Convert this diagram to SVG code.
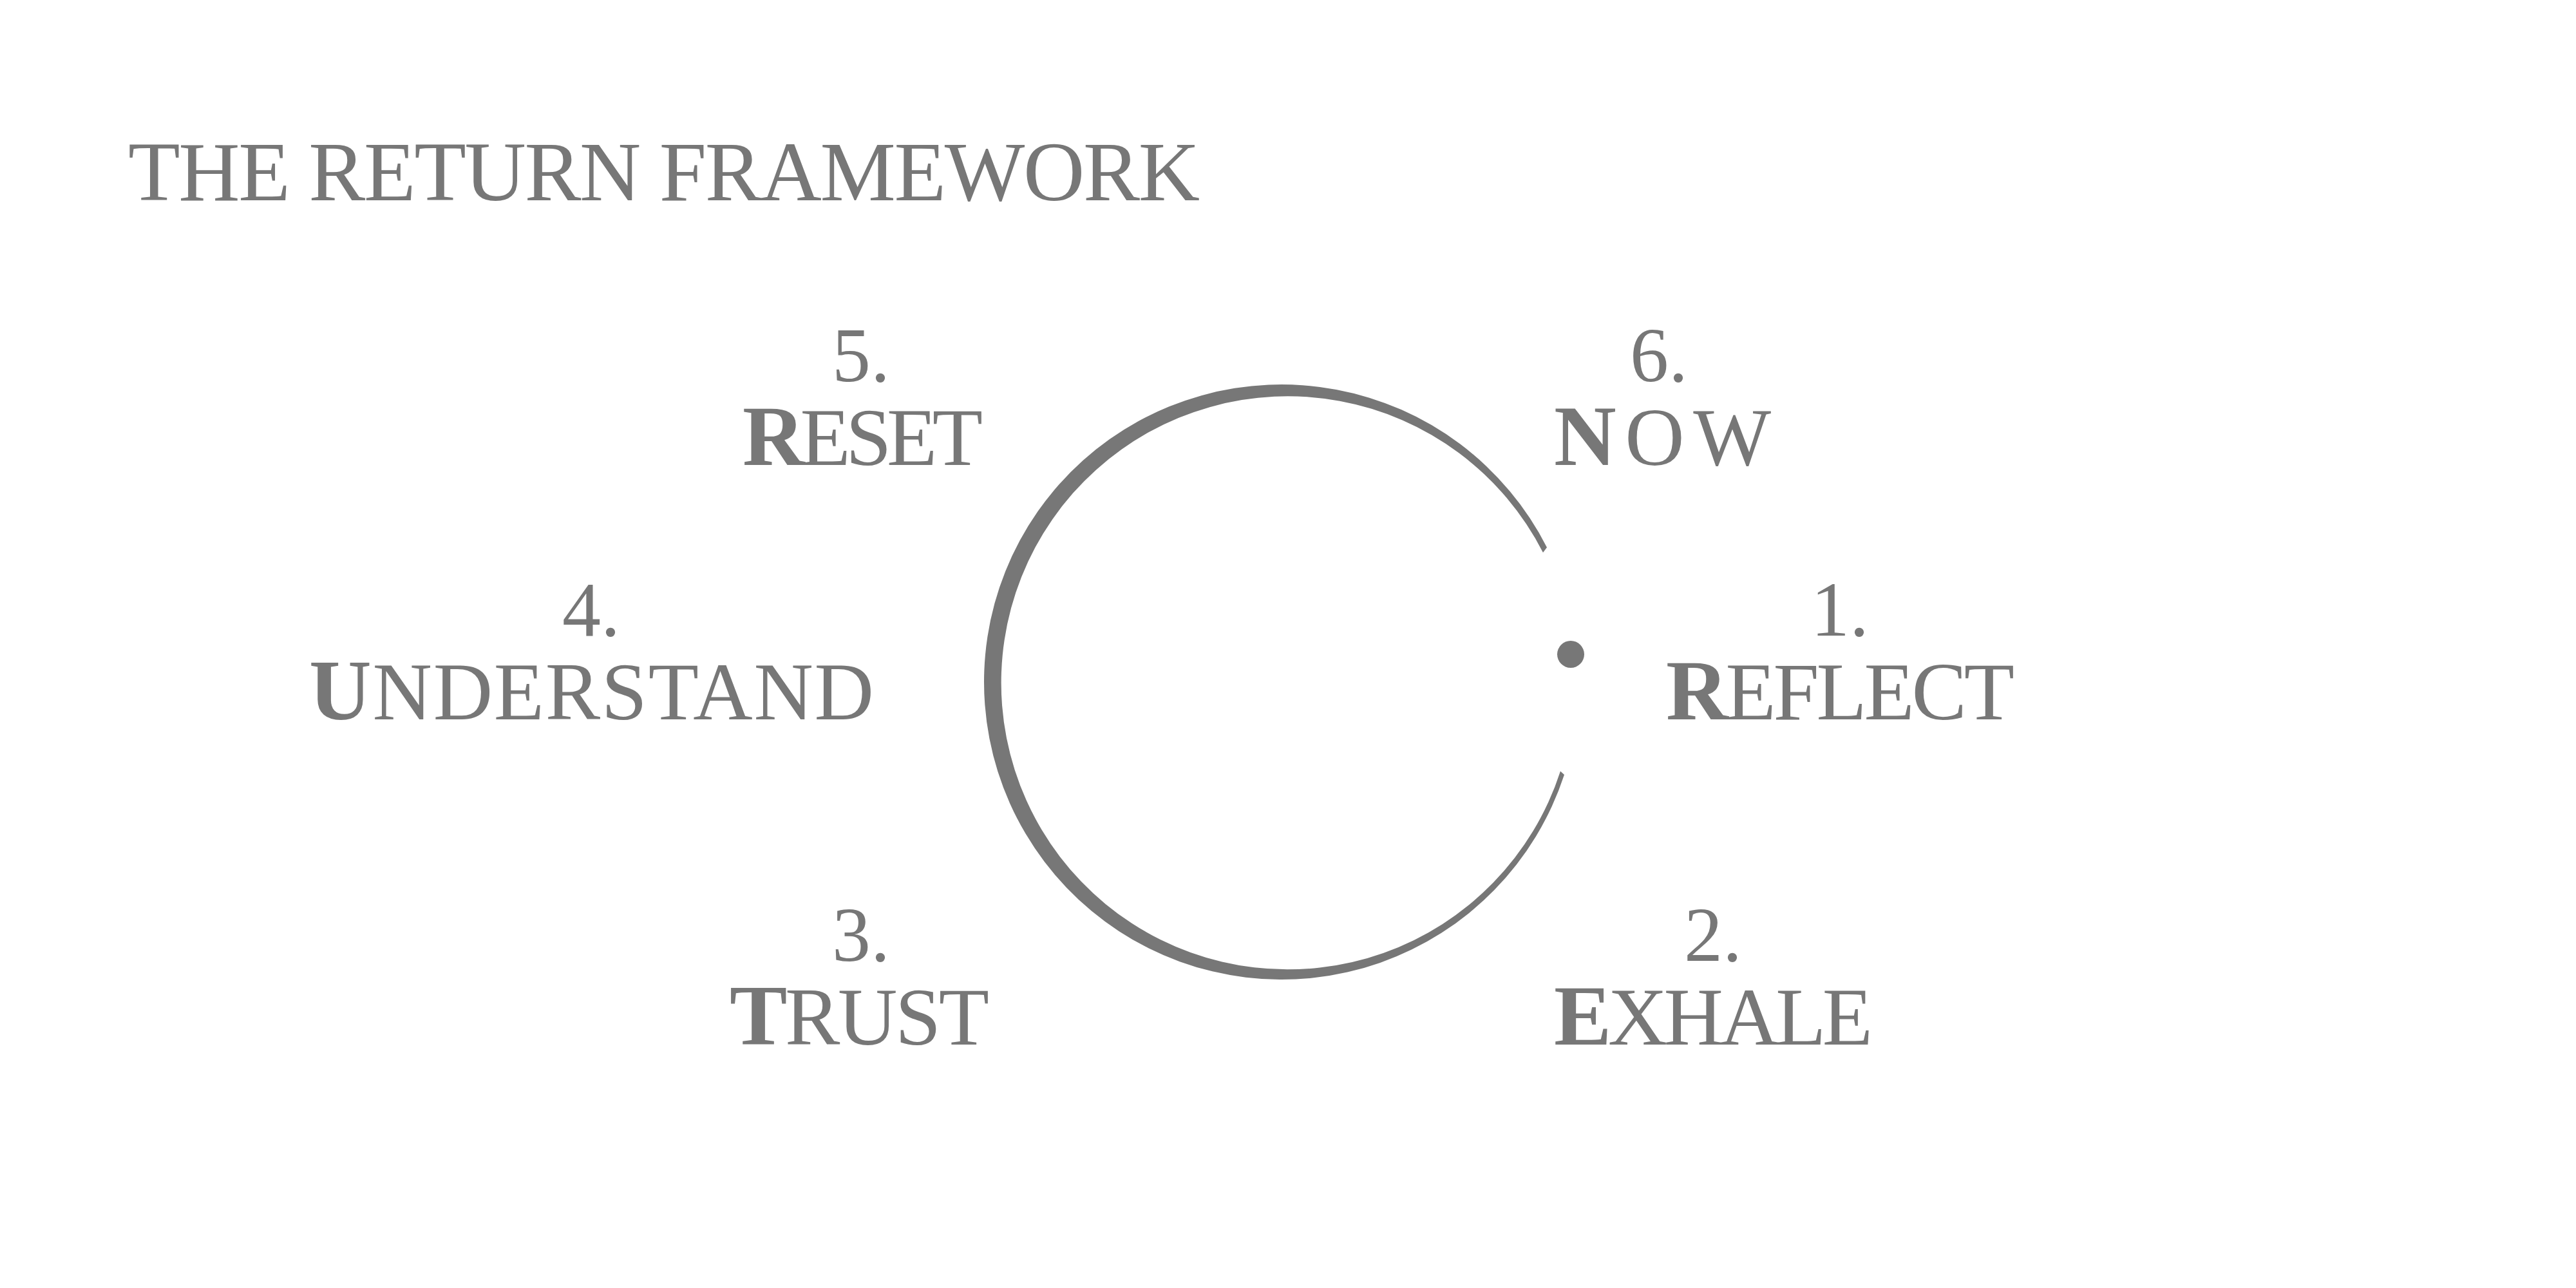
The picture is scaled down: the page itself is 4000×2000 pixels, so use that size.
<svg xmlns="http://www.w3.org/2000/svg" width="4000" height="2000" viewBox="0 0 4000 2000">
<style>
text{font-family:"Liberation Serif","DejaVu Serif",serif;fill:#777}
.num{font-size:120px;text-anchor:middle}
.w{font-size:128px}
.b{font-weight:bold;font-size:134px}
.t{font-size:132px}
</style>
<rect width="4000" height="2000" fill="#fff"/>
<text class="t" x="199" y="311" textLength="1664" lengthAdjust="spacing">THE RETURN FRAMEWORK</text>
<g id="ring">
<path d="M 2402 850 A 462 462 0 1 0 2429 1203 L 2423 1197.5 A 445 445 0 1 1 2396 858 Z" fill="#777"/>
<circle cx="2439" cy="1016" r="21" fill="#777"/>
</g>
<g id="n1"><text class="num" x="2857" y="987">1.</text><text class="w" x="2587" y="1117" textLength="541" lengthAdjust="spacing"><tspan class="b">R</tspan>EFLECT</text></g>
<g id="n2"><text class="num" x="2660" y="1492">2.</text><text class="w" x="2413" y="1622" textLength="495" lengthAdjust="spacing"><tspan class="b">E</tspan>XHALE</text></g>
<g id="n3"><text class="num" x="1337" y="1492">3.</text><text class="w" x="1133" y="1622" textLength="403" lengthAdjust="spacing"><tspan class="b">T</tspan>RUST</text></g>
<g id="n4"><text class="num" x="918" y="987">4.</text><text class="w" x="480" y="1117" textLength="877" lengthAdjust="spacing"><tspan class="b">U</tspan>NDERSTAND</text></g>
<g id="n5"><text class="num" x="1337" y="592">5.</text><text class="w" x="1153" y="722" textLength="373" lengthAdjust="spacing"><tspan class="b">R</tspan>ESET</text></g>
<g id="n6"><text class="num" x="2576" y="592">6.</text><text class="w" x="2413" y="722" textLength="337" lengthAdjust="spacing"><tspan class="b">N</tspan>OW</text></g>
<g id="connectors"/>
</svg>
